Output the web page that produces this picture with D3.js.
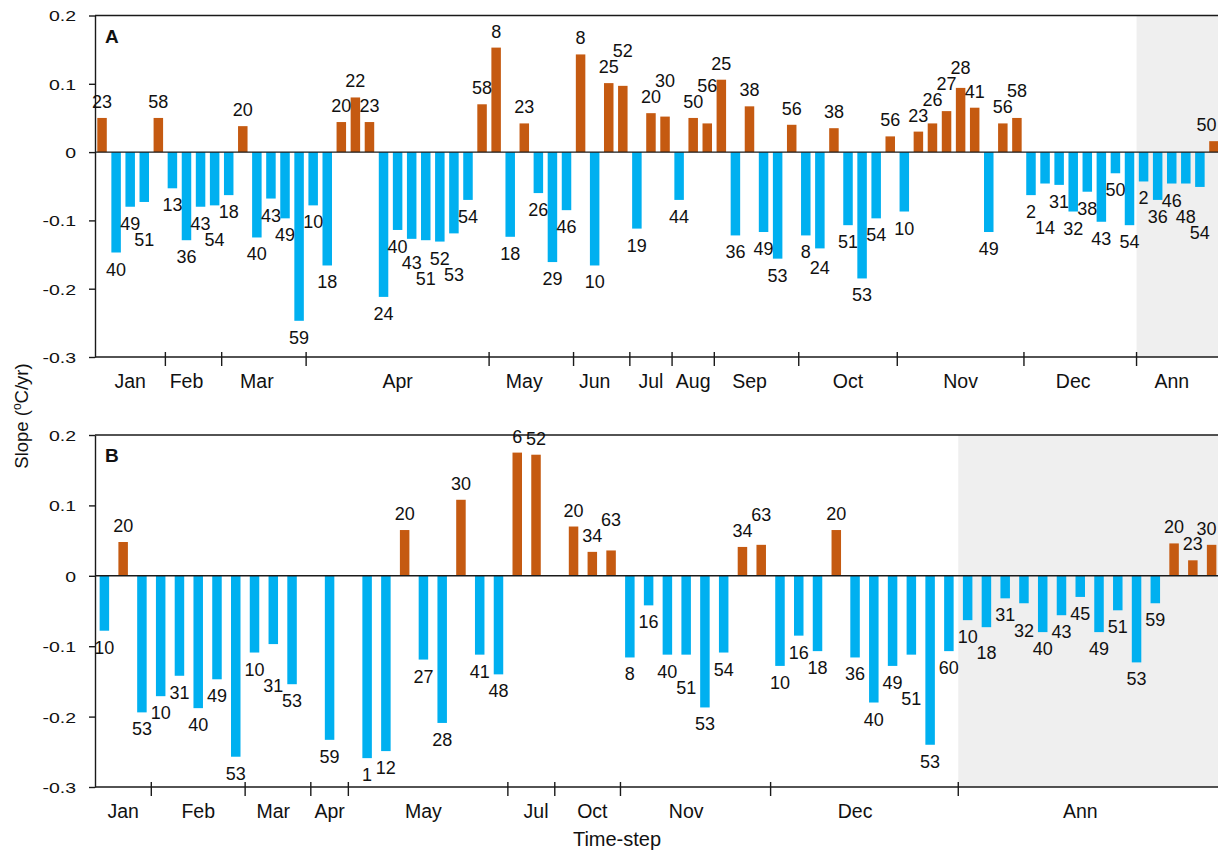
<!DOCTYPE html>
<html>
<head>
<meta charset="utf-8">
<script src="https://cdn.jsdelivr.net/npm/d3@7"></script>
<style>
  html, body { margin: 0; padding: 0; background: #fff; }
  svg { display: block; font-family: "Liberation Sans", Arial, Helvetica, sans-serif; }
</style>
</head>
<body>
<svg id="chart" width="1218" height="850"></svg>
<script>
// ---------------- DATA ----------------
// Panel A: month groups, station numbers (labels) and slopes (°C/yr)
const monthsA = ["Jan","Feb","Mar","Apr","May","Jun","Jul","Aug","Sep","Oct","Nov","Dec","Ann"];
const stationsA = [
  [23,40,49,51,58],
  [13,36,43,54],
  [18,20,40,43,49,59],
  [10,18,20,22,23,24,40,43,51,52,53,54,58],
  [8,18,23,26,29,46],
  [8,10,25,52],
  [19,20,30],
  [44,50,56],
  [25,36,38,49,53,56],
  [8,24,38,51,53,54,56],
  [10,23,26,27,28,41,49,56,58],
  [2,14,31,32,38,43,50,54],
  [2,36,46,48,54,50]
];
const slopesA = [
  [0.050,-0.147,-0.080,-0.073,0.050],
  [-0.053,-0.129,-0.080,-0.078],
  [-0.063,0.038,-0.125,-0.068,-0.097,-0.247],
  [-0.078,-0.166,0.044,0.080,0.044,-0.212,-0.114,-0.127,-0.129,-0.131,-0.119,-0.070,0.070],
  [0.153,-0.124,0.042,-0.060,-0.161,-0.085],
  [0.143,-0.166,0.101,0.097],
  [-0.112,0.057,0.052],
  [-0.070,0.050,0.042],
  [0.106,-0.122,0.067,-0.117,-0.156,0.040],
  [-0.122,-0.141,0.035,-0.107,-0.185,-0.097,0.023],
  [-0.087,0.030,0.042,0.060,0.094,0.065,-0.117,0.042,0.050],
  [-0.063,-0.046,-0.048,-0.087,-0.058,-0.102,-0.031,-0.107],
  [-0.043,-0.070,-0.046,-0.046,-0.051,0.016]
];

// Panel B (null = empty category slot)
const monthsB = ["Jan","Feb","Mar","Apr","May","Jul","Oct","Nov","Dec","Ann"];
const stationsB = [
  [10,20,53],
  [10,31,40,49,53],
  [10,31,53,null],
  [59,null],
  [1,12,20,27,28,30,41,48],
  [6,52,null],
  [20,34,63],
  [8,16,40,51,53,54,34,63],
  [10,16,18,20,36,40,49,51,53,60],
  [10,18,31,32,40,43,45,49,51,53,59,20,23,30]
];
const slopesB = [
  [-0.078,0.048,-0.194],
  [-0.171,-0.142,-0.188,-0.147,-0.257],
  [-0.109,-0.097,-0.154,null],
  [-0.233,null],
  [-0.259,-0.249,0.065,-0.119,-0.209,0.108,-0.112,-0.140],
  [0.175,0.172,null],
  [0.070,0.034,0.036],
  [-0.116,-0.042,-0.112,-0.112,-0.187,-0.109,0.041,0.044],
  [-0.128,-0.085,-0.107,0.065,-0.116,-0.180,-0.128,-0.112,-0.240,-0.107],
  [-0.063,-0.073,-0.032,-0.039,-0.080,-0.056,-0.030,-0.080,-0.049,-0.123,-0.039,0.046,0.022,0.044]
];

const yTicks = [0.2, 0.1, 0, -0.1, -0.2, -0.3];
const shadedGroup = "Ann";

// ---------------- DRAW ----------------
const svg = d3.select("#chart");
const W = 1218;
const C_POS = "#C55A11", C_NEG = "#00B0F0", C_AX = "#1a1a1a", C_SHADE = "#EFEFEF";

function drawPanel(cfg) {
  const { months, stations, slopes, top, bottom, letter, barW } = cfg;
  const slots = [];
  const groups = [];
  months.forEach((m, gi) => {
    const start = slots.length;
    stations[gi].forEach((s, k) => {
      slots.push({ idx: slots.length, month: m, station: s, v: slopes[gi][k] });
    });
    groups.push({ month: m, start, end: slots.length - 1 });
  });
  const n = slots.length;
  const left = 95, right = 1221;
  const step = (right - left) / n;
  const pin = 1 - barW / step;
  const x = d3.scaleBand().domain(d3.range(n)).range([left, right])
    .paddingInner(pin).paddingOuter(pin / 2);
  const y = d3.scaleLinear().domain([-0.3, 0.2]).range([bottom, top]);
  const cx = i => x(i) + x.bandwidth() / 2;

  const g = svg.append("g");

  // shaded annual region
  const sg = groups.find(d => d.month === shadedGroup);
  const sx = cx(sg.start) - x.step() / 2;
  g.append("rect").attr("x", sx).attr("y", y(0.2)).attr("width", W - sx).attr("height", y(-0.3) - y(0.2))
    .attr("fill", C_SHADE);

  // bars
  const bars = slots.filter(d => d.v !== null);
  g.selectAll("rect.bar").data(bars).join("rect").attr("class", "bar")
    .attr("x", d => x(d.idx)).attr("width", x.bandwidth())
    .attr("y", d => d.v >= 0 ? y(d.v) : y(0))
    .attr("height", d => Math.abs(y(d.v) - y(0)))
    .attr("fill", d => d.v >= 0 ? C_POS : C_NEG);

  // zero line, top frame, bottom axis line
  [0, 0.2, -0.3].forEach(v => {
    g.append("line").attr("x1", left).attr("x2", W).attr("y1", y(v)).attr("y2", y(v))
      .attr("stroke", C_AX).attr("stroke-width", 1.4);
  });

  // y axis
  const yAxis = d3.axisLeft(y).tickValues(yTicks).tickSize(6).tickSizeOuter(0)
    .tickFormat(d => d === 0 ? "0" : d.toFixed(1));
  const ya = g.append("g").attr("transform", `translate(${left},0)`).call(yAxis);
  ya.select(".domain").attr("stroke", C_AX).attr("stroke-width", 1.4);
  ya.selectAll(".tick line").attr("stroke", C_AX).attr("stroke-width", 1.4);
  ya.selectAll(".tick text")
    .attr("x", 0).attr("dy", "0.36em").attr("text-anchor", "end")
    .attr("transform", "translate(-19,0) scale(1.3,1)")
    .attr("fill", "#111").style("font-size", "15px")
    .style("font-family", '"Liberation Sans", Arial, sans-serif');

  // month ticks
  const yb = y(-0.3);
  const tickXs = [];
  groups.slice(0, -1).forEach(gr => {
    const last = slots[gr.end];
    tickXs.push(last.v === null ? cx(gr.end) : cx(gr.end) + x.step() / 2);
  });
  g.selectAll("line.mtick").data(tickXs).join("line").attr("class", "mtick")
    .attr("x1", d => d).attr("x2", d => d).attr("y1", yb - 5).attr("y2", yb + 9)
    .attr("stroke", C_AX).attr("stroke-width", 1.4);

  // month labels
  g.selectAll("text.mlab").data(groups).join("text").attr("class", "mlab")
    .attr("x", d => cx(d.start + Math.floor((d.end - d.start) / 2)))
    .attr("y", yb + 31).attr("text-anchor", "middle")
    .style("font-size", "19.5px").attr("fill", "#111")
    .text(d => d.month);

  // data labels with simple overlap avoidance
  const fs = 18, h = 13, gapP = 10, gapN = 10;
  const placed = [];
  bars.forEach(d => {
    const w = String(d.station).length * 0.556 * fs + 1;
    const xc = Math.min(cx(d.idx), W - 1 - w / 2);
    const yEnd = y(d.v);
    let t = d.v >= 0 ? yEnd - gapP - h : yEnd + gapN;
    for (let it = 0; it < 30; it++) {
      const hit = placed.find(p => Math.abs(p.x - xc) < (p.w + w) / 2 + 1 &&
        t < p.t + p.h + 1 && t + h + 1 > p.t);
      if (!hit) break;
      t = d.v >= 0 ? hit.t - h - 3 : hit.t + hit.h + 3;
    }
    placed.push({ x: xc, w, t, h, d });
  });
  g.selectAll("text.dlab").data(placed).join("text").attr("class", "dlab")
    .attr("x", p => p.x).attr("y", p => p.t + p.h)
    .attr("text-anchor", "middle").style("font-size", fs + "px").attr("fill", "#111")
    .text(p => p.d.station);

  // panel letter
  g.append("text").attr("x", 105).attr("y", top + 27)
    .style("font-size", "19px").style("font-weight", "bold").attr("fill", "#111").text(letter);
}

drawPanel({ months: monthsA, stations: stationsA, slopes: slopesA, top: 15.5, bottom: 357, letter: "A", barW: 9.5 });
drawPanel({ months: monthsB, stations: stationsB, slopes: slopesB, top: 435, bottom: 787, letter: "B", barW: 9.5 });

// y axis title
const yt = svg.append("text").attr("transform", "translate(28,416) rotate(-90)")
  .attr("text-anchor", "middle").style("font-size", "18.5px").attr("fill", "#111");
yt.append("tspan").text("Slope (");
yt.append("tspan").attr("baseline-shift", "super").style("font-size", "12px").text("o");
yt.append("tspan").text("C/yr)");

// x axis title
svg.append("text").attr("x", 617).attr("y", 846).attr("text-anchor", "middle")
  .style("font-size", "20px").attr("fill", "#111").text("Time-step");
</script>
</body>
</html>
